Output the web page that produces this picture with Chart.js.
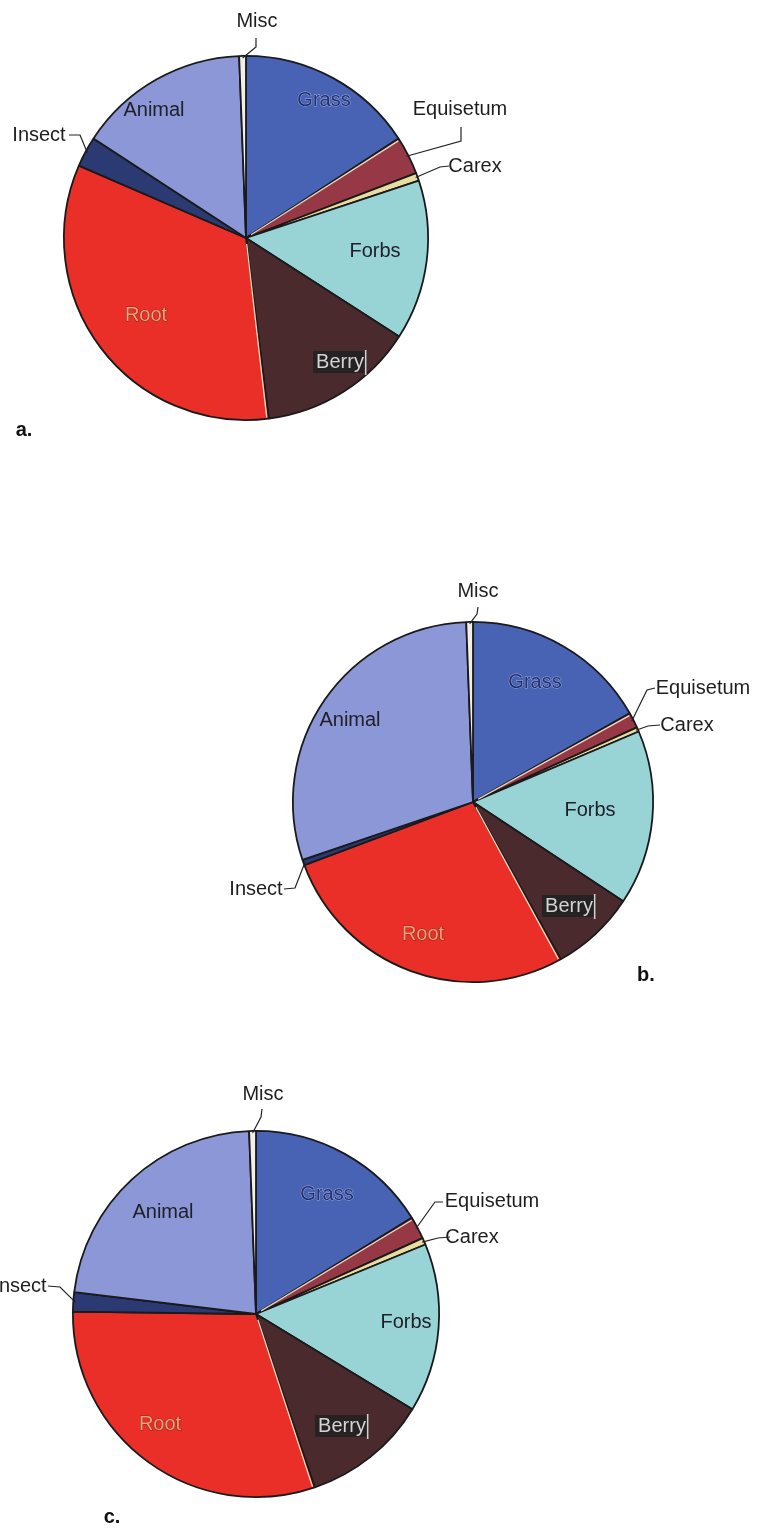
<!DOCTYPE html>
<html>
<head>
<meta charset="utf-8">
<script src="https://cdn.jsdelivr.net/npm/chart.js@4/dist/chart.umd.min.js"></script>
<style>
  html, body { margin: 0; padding: 0; background: #ffffff; }
  #page { position: relative; width: 758px; height: 1528px; overflow: hidden; background: #ffffff; }
  canvas { position: absolute; }
</style>
</head>
<body>
<div id="page">
  <canvas id="pieA" width="520" height="460" style="left:0px;top:0px;"></canvas>
  <canvas id="pieB" width="558" height="460" style="left:200px;top:560px;"></canvas>
  <canvas id="pieC" width="560" height="458" style="left:0px;top:1070px;"></canvas>
</div>
<script>
// Diet composition (% of diet) for three groups, slices clockwise from 12 o'clock
const categories = ['Grass', 'Equisetum', 'Carex', 'Forbs', 'Berry', 'Root', 'Insect', 'Animal', 'Misc'];
const dietA = [15.8, 3.4, 0.7, 14.2, 13.9, 33.5, 2.7, 15.2, 0.6];
const dietB = [16.8, 1.4, 0.4, 15.7, 7.6, 27.4, 0.5, 29.6, 0.6];
const dietC = [16.2, 2.0, 0.6, 14.9, 11.1, 30.4, 1.7, 22.5, 0.6];
const panelLetters = ['a.', 'b.', 'c.'];

const sliceColors = ['#4862b4', '#963846', '#e8dca0', '#98d4d6', '#4b2a2e', '#ea2e28', '#2b3a72', '#8c97d8', '#f2f0e6'];

const FONT = '"Liberation Sans", Arial, Helvetica, sans-serif';

// Label placement per panel, as offsets from the pie centre.
// Leader lines run through the given points and end on the rim at the slice's mid-angle.
const layoutA = {
  padding: { left: 63, top: 55, right: 91, bottom: 39 },
  letter: [-222, 192],
  labels: {
    Misc:      { at: [11, -217], kind: 'out', leader: [[10, -200], [10, -191]] },
    Grass:     { at: [78, -138], kind: 'grass' },
    Equisetum: { at: [214, -129], kind: 'out', leader: [[215, -111], [215, -97]] },
    Carex:     { at: [229, -72], kind: 'out', leader: [[203, -72], [194, -71]] },
    Forbs:     { at: [129, 13], kind: 'in' },
    Berry:     { at: [94, 124], kind: 'berry' },
    Root:      { at: [-100, 77], kind: 'root' },
    Insect:    { at: [-207, -103], kind: 'out', leader: [[-177, -103], [-166, -103]] },
    Animal:    { at: [-92, -128], kind: 'in' }
  }
};
const layoutB = {
  padding: { left: 92, top: 61, right: 104, bottom: 37 },
  letter: [173, 173],
  labels: {
    Misc:      { at: [5, -211], kind: 'out', leader: [[5, -195], [4, -188]] },
    Grass:     { at: [62, -120], kind: 'grass' },
    Equisetum: { at: [230, -114], kind: 'out', leader: [[182, -114], [174, -112]] },
    Carex:     { at: [214, -77], kind: 'out', leader: [[187, -77], [175, -76]] },
    Forbs:     { at: [117, 8], kind: 'in' },
    Berry:     { at: [96, 104], kind: 'berry' },
    Root:      { at: [-50, 132], kind: 'root' },
    Insect:    { at: [-217, 87], kind: 'out', leader: [[-189, 87], [-178, 86]] },
    Animal:    { at: [-123, -82], kind: 'in' }
  }
};
const layoutC = {
  padding: { left: 72, top: 60, right: 120, bottom: 30 },
  letter: [-144, 203],
  labels: {
    Misc:      { at: [7, -220], kind: 'out', leader: [[6, -205], [5, -197]] },
    Grass:     { at: [71, -120], kind: 'grass' },
    Equisetum: { at: [236, -113], kind: 'out', leader: [[187, -112], [179, -112]] },
    Carex:     { at: [216, -77], kind: 'out', leader: [[194, -77], [182, -76]] },
    Forbs:     { at: [150, 8], kind: 'in' },
    Berry:     { at: [86, 112], kind: 'berry' },
    Root:      { at: [-96, 110], kind: 'root' },
    Insect:    { at: [-236, -28], kind: 'out', leader: [[-208, -28], [-196, -27]] },
    Animal:    { at: [-93, -102], kind: 'in' }
  }
};

// Pale rule drawn just inside the leading edge of these slices
const paleEdges = ['Equisetum', 'Root'];

// Draws slice names, leader lines and the panel letter
const sliceLabels = {
  id: 'sliceLabels',
  afterDatasetsDraw(chart) {
    const ctx = chart.ctx;
    const arcs = chart.getDatasetMeta(0).data;
    if (!arcs.length) return;
    ctx.save();
    paleEdges.forEach(name => {
      const arc = arcs[categories.indexOf(name)];
      const a = arc.startAngle + 1.6 / arc.outerRadius * 1.2;
      ctx.beginPath();
      ctx.moveTo(arc.x + Math.cos(a) * 6, arc.y + Math.sin(a) * 6);
      ctx.lineTo(arc.x + Math.cos(a) * (arc.outerRadius - 1.5), arc.y + Math.sin(a) * (arc.outerRadius - 1.5));
      ctx.strokeStyle = 'rgba(245,236,205,0.9)';
      ctx.lineWidth = 1.3;
      ctx.stroke();
    });
    ctx.restore();
  },
  afterDraw(chart, args, opts) {
    const ctx = chart.ctx;
    const arcs = chart.getDatasetMeta(0).data;
    if (!arcs.length) return;
    const cx = arcs[0].x, cy = arcs[0].y;
    ctx.save();
    ctx.textAlign = 'center';
    ctx.textBaseline = 'middle';
    categories.forEach((name, i) => {
      const lab = opts.layout.labels[name];
      if (!lab) return;
      const arc = arcs[i];
      const tx = cx + lab.at[0], ty = cy + lab.at[1];
      ctx.font = '20px ' + FONT;
      if (lab.kind === 'out') {
        const mid = (arc.startAngle + arc.endAngle) / 2;
        const rx = cx + Math.cos(mid) * (arc.outerRadius - 2);
        const ry = cy + Math.sin(mid) * (arc.outerRadius - 2);
        ctx.beginPath();
        lab.leader.forEach((p, k) => {
          const px = cx + p[0], py = cy + p[1];
          if (k === 0) ctx.moveTo(px, py); else ctx.lineTo(px, py);
        });
        ctx.lineTo(rx, ry);
        ctx.strokeStyle = '#222';
        ctx.lineWidth = 1.2;
        ctx.stroke();
        ctx.fillStyle = '#1e1e1e';
        ctx.fillText(name, tx, ty);
      } else if (lab.kind === 'in') {
        ctx.fillStyle = '#202028';
        ctx.fillText(name, tx, ty);
      } else if (lab.kind === 'grass') {
        ctx.lineWidth = 1;
        ctx.strokeStyle = 'rgba(185,198,240,0.75)';
        ctx.strokeText(name, tx, ty);
        ctx.fillStyle = '#22306c';
        ctx.fillText(name, tx, ty);
      } else if (lab.kind === 'root') {
        ctx.lineWidth = 1;
        ctx.strokeStyle = 'rgba(120,30,20,0.8)';
        ctx.strokeText(name, tx, ty);
        ctx.fillStyle = '#e6a27a';
        ctx.fillText(name, tx, ty);
      } else if (lab.kind === 'berry') {
        const w = ctx.measureText(name).width + 6;
        ctx.fillStyle = '#262123';
        ctx.fillRect(tx - w / 2, ty - 11, w, 22);
        ctx.fillStyle = '#d4d4d4';
        ctx.fillText(name, tx, ty);
        ctx.fillStyle = '#cfcfcf';
        ctx.fillRect(tx + w / 2 - 2, ty - 12, 1.6, 25);
      }
    });
    ctx.font = 'bold 20px ' + FONT;
    ctx.fillStyle = '#111';
    ctx.fillText(opts.letter, cx + opts.layout.letter[0], cy + opts.layout.letter[1]);
    ctx.restore();
  }
};

function makePie(id, values, layout, letter) {
  return new Chart(document.getElementById(id), {
    type: 'pie',
    data: {
      labels: categories,
      datasets: [{
        data: values,
        backgroundColor: sliceColors,
        borderColor: '#1a1a1a',
        borderWidth: 1.8
      }]
    },
    options: {
      responsive: false,
      devicePixelRatio: 1,
      animation: false,
      events: [],
      rotation: 0,
      layout: { padding: layout.padding },
      plugins: {
        legend: { display: false },
        tooltip: { enabled: false },
        sliceLabels: { layout: layout, letter: letter }
      }
    },
    plugins: [sliceLabels]
  });
}

makePie('pieA', dietA, layoutA, panelLetters[0]);
makePie('pieB', dietB, layoutB, panelLetters[1]);
makePie('pieC', dietC, layoutC, panelLetters[2]);
</script>
</body>
</html>
